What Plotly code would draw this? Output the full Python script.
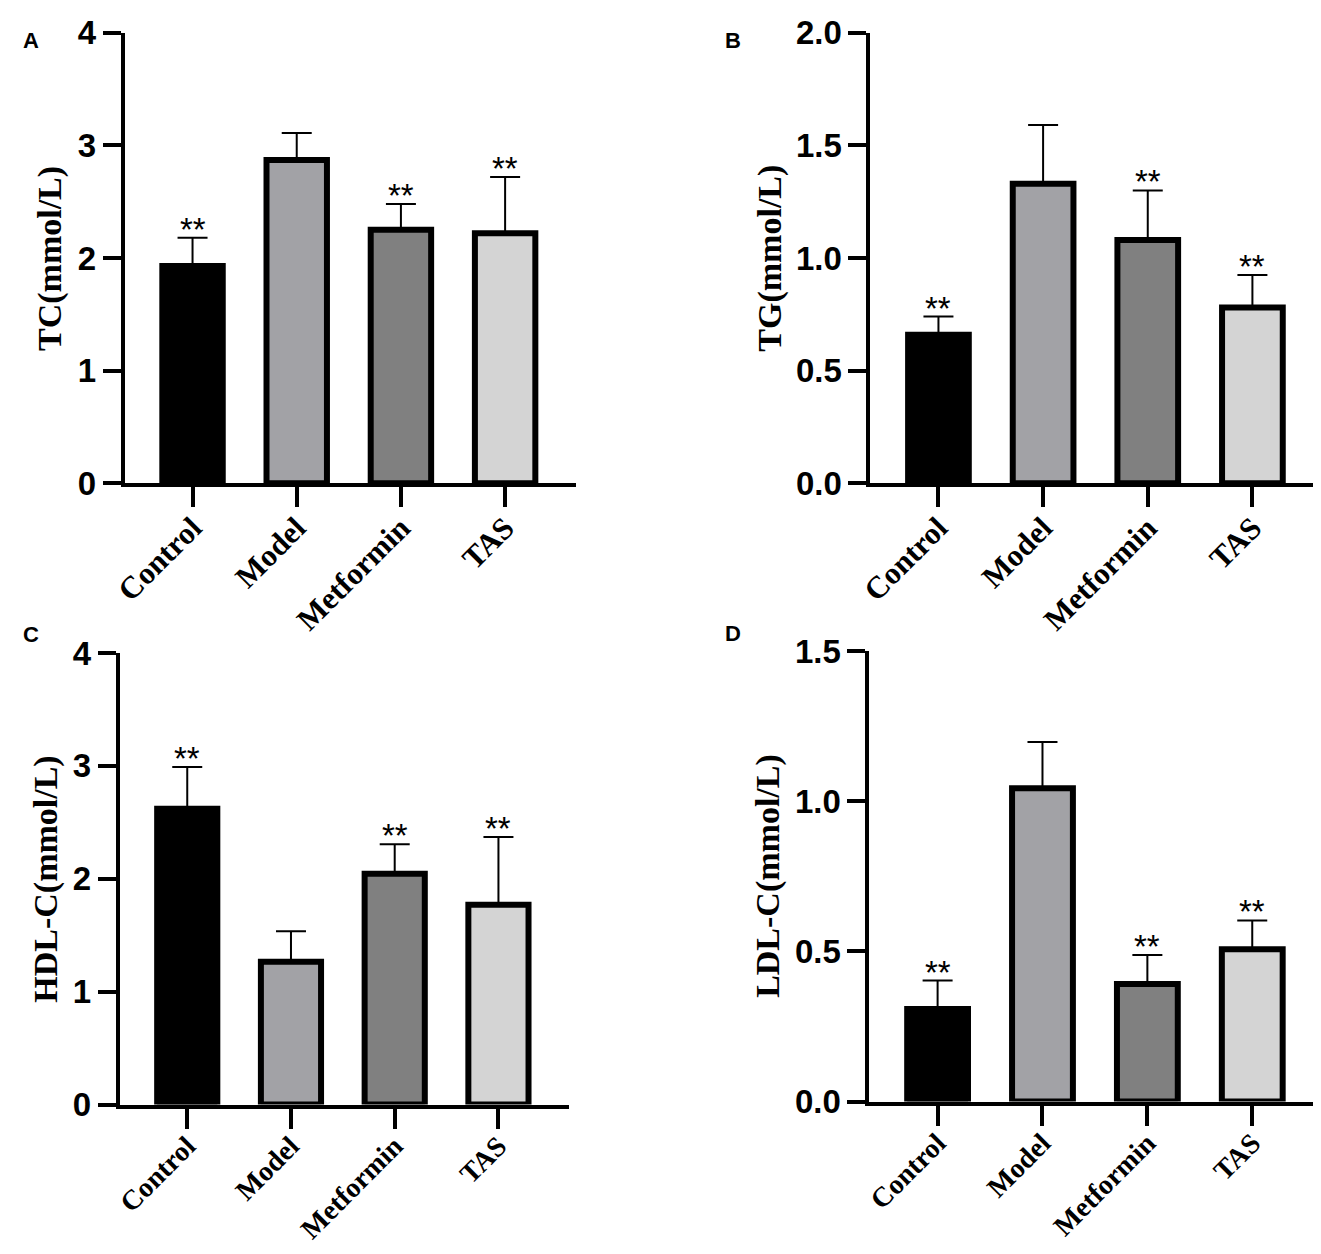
import plotly.graph_objects as go
from plotly.subplots import make_subplots

W, H = 1321, 1254

groups = ['Control', 'Model', 'Metformin', 'TAS']
bar_colors = ['#000000', '#a2a2a6', '#808080', '#d4d4d4']

# panel A: TC
tc_mean = [1.93, 2.87, 2.25, 2.22]
tc_sd = [0.25, 0.24, 0.23, 0.50]
tc_sig = ['**', '', '**', '**']
# panel B: TG
tg_mean = [0.66, 1.33, 1.08, 0.78]
tg_sd = [0.08, 0.26, 0.22, 0.145]
tg_sig = ['**', '', '**', '**']
# panel C: HDL-C
hdl_mean = [2.62, 1.265, 2.045, 1.77]
hdl_sd = [0.37, 0.27, 0.26, 0.60]
hdl_sig = ['**', '', '**', '**']
# panel D: LDL-C
ldl_mean = [0.308, 1.043, 0.391, 0.507]
ldl_sd = [0.095, 0.154, 0.097, 0.096]
ldl_sig = ['**', '', '**', '**']

panels = [
    ('A', 'TC(mmol/L)', tc_mean, tc_sd, tc_sig, [0, 4], 1, ''),
    ('B', 'TG(mmol/L)', tg_mean, tg_sd, tg_sig, [0, 2], 0.5, '.1f'),
    ('C', 'HDL-C(mmol/L)', hdl_mean, hdl_sd, hdl_sig, [0, 4], 1, ''),
    ('D', 'LDL-C(mmol/L)', ldl_mean, ldl_sd, ldl_sig, [0, 1.5], 0.5, '.1f'),
]

# plot areas as measured on the target picture: (left, right, top, bottom)
boxes = [(119, 571, 32, 481), (866, 1320, 32, 481),
         (114, 564, 650, 1100), (865, 1320, 648, 1097)]
title_x = [44, 765, 40, 764]
letter_pos = [(12, 18), (728, 18), (12, 632), (728, 631)]
# bottom row labels a bit smaller so "Metformin" is not clipped at the page edge
xlabel_size = [31, 31, 28, 28]

# the photographed page sits a little inset and squeezed; map target pixels to figure pixels
SX, SY, X0, Y0 = 0.992, 0.967, 15.0, 25.3


def px(v):
    return min(max((v - X0) / SX / W, 0), 1)


def py(v):
    return min(max(1 - (v - Y0) / SY / H, 0), 1)


fig = make_subplots(rows=2, cols=2)

for i, (letter, ytitle, mean, sd, sig, yr, dt, fmt) in enumerate(panels):
    r, c = i // 2 + 1, i % 2 + 1
    fig.add_trace(go.Bar(
        x=groups, y=mean, width=0.58,
        marker=dict(color=bar_colors, line=dict(color='black', width=6)),
        error_y=dict(type='data', array=sd, arrayminus=[0] * 4, symmetric=False,
                     color='black', thickness=2, width=15),
        showlegend=False,
    ), row=r, col=c)

    l, rt, t, b = boxes[i]
    n = '' if i == 0 else str(i + 1)
    fig.update_layout(**{
        'xaxis' + n: dict(domain=[px(l), px(rt)]),
        'yaxis' + n: dict(domain=[py(b), py(t)]),
    })
    fig.update_xaxes(range=[-0.65, 3.68], showline=True, linewidth=4, linecolor='black',
                     ticks='outside', ticklen=20, tickwidth=4, tickcolor='black',
                     tickangle=-45, ticklabelstandoff=-10, showgrid=False, zeroline=False,
                     tickfont=dict(family='Liberation Serif', size=xlabel_size[i],
                                   color='black', weight='bold'),
                     row=r, col=c)
    fig.update_yaxes(range=yr, dtick=dt, tickformat=fmt, showline=True, linewidth=4,
                     linecolor='black', ticks='outside', ticklen=18, tickwidth=4,
                     tickcolor='black', showgrid=False, zeroline=False,
                     tickfont=dict(family='Liberation Sans', size=33, color='black', weight='bold'),
                     row=r, col=c)

    xref = 'x' + n
    yref = 'y' + n
    for g, m, s, st in zip(groups, mean, sd, sig):
        if st:
            fig.add_annotation(x=g, y=m + s, xref=xref, yref=yref, text=st,
                               showarrow=False, yanchor='bottom', yshift=-12,
                               font=dict(family='Liberation Sans', size=33, color='black'))

    fig.add_annotation(x=px(title_x[i]), y=py((t + b) / 2), xref='paper', yref='paper',
                       text=ytitle, textangle=-90, showarrow=False,
                       xanchor='center', yanchor='middle',
                       font=dict(family='Liberation Serif', size=34, color='black', weight='bold'))
    lx, ly = letter_pos[i]
    fig.add_annotation(x=px(lx), y=py(ly), xref='paper', yref='paper', text=letter,
                       showarrow=False, xanchor='left' if lx < 20 else 'center',
                       yanchor='top' if ly < 30 else 'middle',
                       font=dict(family='Liberation Sans', size=22, color='black', weight='bold'))

fig.update_layout(width=W, height=H, margin=dict(l=0, r=0, t=0, b=0),
                  plot_bgcolor='white', paper_bgcolor='white')

fig.write_html('out.html')
